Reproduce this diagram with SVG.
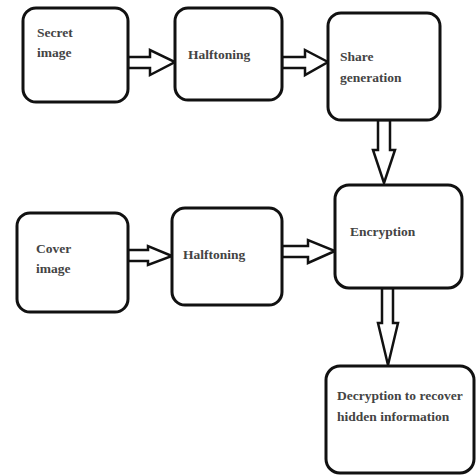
<svg xmlns="http://www.w3.org/2000/svg" width="476" height="475" viewBox="0 0 476 475">
<style>
.box{fill:#fff;stroke:#111;stroke-width:3}
.arr{fill:#fff;stroke:#111;stroke-width:2.5;stroke-linejoin:miter}
text{font-family:"Liberation Serif","DejaVu Serif",serif;font-weight:bold;font-size:13.5px;fill:#444}
</style>
<rect width="476" height="475" fill="#fff"/>
<g id="connectors">
<polygon class="arr" points="128,57 150,57 150,50 175,62 150,75 150,68 128,68"/>
<polygon class="arr" points="282,57 305,57 305,50 328,62 305,75 305,68 282,68"/>
<polygon class="arr" points="128,250 148,250 148,246 172,256 148,265 148,261 128,261"/>
<polygon class="arr" points="282,246 308,246 308,240 335,251 308,263 308,257 282,257"/>
<polygon class="arr" points="378,120 390,120 390,150 395,150 384,183 373,150 378,150"/>
<polygon class="arr" points="382,288 393,288 393,323 398,323 388,365 378,323 382,323"/>
</g>
<g id="secret">
<rect class="box" x="23" y="8" width="105" height="94" rx="13"/>
<text x="37" y="37">Secret</text>
<text x="37" y="57">image</text>
</g>
<g id="halftoning1">
<rect class="box" x="175" y="8" width="107" height="92" rx="13"/>
<text x="188" y="59">Halftoning</text>
</g>
<g id="share">
<rect class="box" x="328" y="13" width="112" height="107" rx="13"/>
<text x="340" y="61">Share</text>
<text x="340" y="82">generation</text>
</g>
<g id="encryption">
<rect class="box" x="335" y="185" width="127" height="103" rx="14"/>
<text x="350" y="236">Encryption</text>
</g>
<g id="cover">
<rect class="box" x="17" y="213" width="111" height="99" rx="13"/>
<text x="36" y="253">Cover</text>
<text x="36" y="273">image</text>
</g>
<g id="halftoning2">
<rect class="box" x="172" y="208" width="110" height="97" rx="13"/>
<text x="183" y="259">Halftoning</text>
</g>
<g id="decryption">
<rect class="box" x="326" y="366" width="148" height="107" rx="14"/>
<text x="337" y="400">Decryption to recover</text>
<text x="337" y="421">hidden information</text>
</g>
</svg>
